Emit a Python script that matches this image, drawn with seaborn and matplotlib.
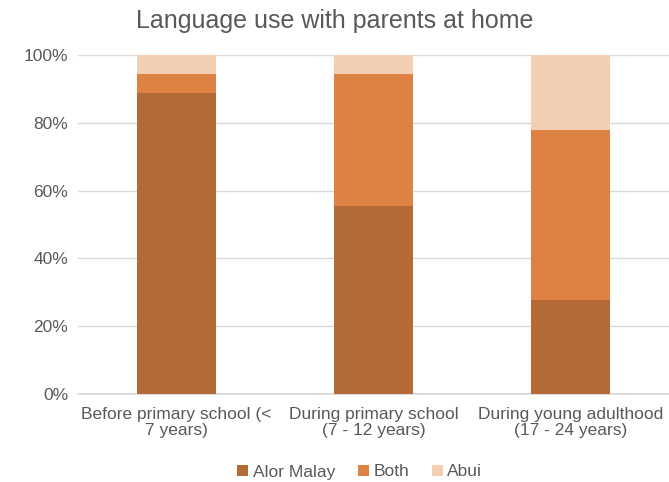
import matplotlib
matplotlib.use("Agg")
import matplotlib.pyplot as plt
import seaborn as sns
import numpy as np
from matplotlib.patches import Patch
from matplotlib.ticker import PercentFormatter

categories = ["Before primary school (<\n7 years)", "During primary school\n(7 - 12 years)", "During young adulthood\n(17 - 24 years)"]
series_names = ["Alor Malay", "Both", "Abui"]
alor_malay = [88.9, 55.6, 27.8]
both = [5.6, 38.9, 50.0]
abui = [5.5, 5.5, 22.2]
colors = ["#B46A36", "#DE8244", "#F2CFB3"]

sns.set_theme(style="white")
plt.rcParams['font.family'] = ['Liberation Sans', 'DejaVu Sans']
txt = "#595959"

fig = plt.figure(figsize=(6.69, 4.82), dpi=100)
ax = fig.add_axes([78/669, 1 - 394/482, (669 - 78)/669, (394 - 55)/482])

series = [alor_malay, both, abui]
cum = np.cumsum(np.array(series), axis=0)
for i in range(len(series) - 1, -1, -1):
    sns.barplot(x=categories, y=cum[i], color=colors[i], width=0.4, ax=ax,
                saturation=1, linewidth=0, zorder=3)

ax.set_xlim(-0.5, 2.5)
ax.set_ylim(0, 100)
ax.set_yticks([0, 20, 40, 60, 80, 100])
ax.yaxis.set_major_formatter(PercentFormatter(decimals=0))
ax.grid(axis="y", color="#D9D9D9", linewidth=1, zorder=0)
ax.set_axisbelow(True)
for s in ["top", "right", "left"]:
    ax.spines[s].set_visible(False)
ax.spines["bottom"].set_color("#D9D9D9")
ax.tick_params(axis="both", colors=txt, labelsize=12.5, length=0)
ax.tick_params(axis="x", pad=9)
ax.tick_params(axis="y", pad=7)
for lab in ax.get_xticklabels():
    lab.set_color(txt)
    lab.set_linespacing(1.1)
ax.set_xlabel("")
ax.set_ylabel("")

fig.text(0.5, 1 - 21/482, "Language use with parents at home", ha="center", va="center",
         fontsize=18, color=txt)

handles = [Patch(facecolor=c, edgecolor="none") for c in colors]
fig.legend(handles, series_names, loc="center", bbox_to_anchor=(359.5/669, 1 - 472/482),
           ncol=3, frameon=False, fontsize=12.5, labelcolor=txt,
           handlelength=0.65, handleheight=0.65, handletextpad=0.25, columnspacing=1.3)

fig.savefig("out.png", dpi=100)
